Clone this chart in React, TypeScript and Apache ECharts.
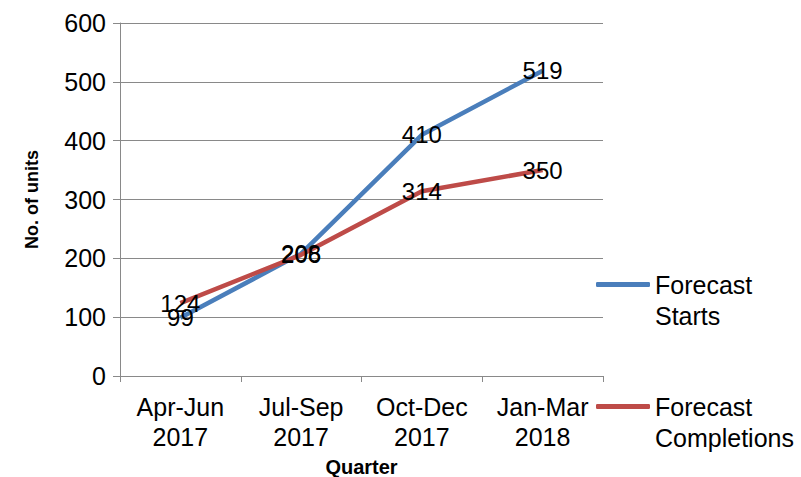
import React, { useEffect, useRef } from "react";
import * as echarts from "echarts";

const categories = ["Apr-Jun 2017", "Jul-Sep 2017", "Oct-Dec 2017", "Jan-Mar 2018"];
const startsName = "Forecast Starts";
const completionsName = "Forecast Completions";
const startsValues = [99, 208, 410, 519];
const completionsValues = [124, 206, 314, 350];
const yTicks = { min: 0, max: 600, interval: 100 };

const FONT = "Liberation Sans, Arial, sans-serif";

export default function App() {
  const ref = useRef<HTMLDivElement>(null);
  useEffect(() => {
    if (!ref.current) return;
    const chart = echarts.init(ref.current, undefined, { renderer: "svg" });
    const legendText = {
      fontFamily: FONT,
      fontSize: 25,
      color: "#000",
      lineHeight: 31,
    };
    const legendBase = {
      orient: "vertical",
      left: 596,
      padding: 0,
      icon: "roundRect",
      itemWidth: 54,
      itemHeight: 5,
      textStyle: legendText,
      formatter: (n: string) => "\n" + n.replace(" ", "\n"),
      selectedMode: false,
    };
    chart.setOption({
      animation: false,
      backgroundColor: "#fff",
      grid: { left: 120, right: 198, top: 23, bottom: 101, containLabel: false, outerBoundsMode: "none" },
      legend: [
        { ...legendBase, data: [startsName], top: 238 },
        { ...legendBase, data: [completionsName], top: 360 },
      ],
      xAxis: {
        type: "category",
        data: categories,
        boundaryGap: true,
        name: "Quarter",
        nameLocation: "middle",
        nameGap: 79,
        nameTextStyle: { fontFamily: FONT, fontSize: 20, fontWeight: "bold", color: "#000" },
        axisLine: { lineStyle: { color: "#898989", width: 1 } },
        axisTick: { show: true, alignWithLabel: false, length: 6, lineStyle: { color: "#898989" } },
        axisLabel: {
          fontFamily: FONT,
          fontSize: 25,
          color: "#000",
          lineHeight: 30,
          margin: 16,
          interval: 0,
          formatter: (v: string) => v.replace(" ", "\n"),
        },
        splitLine: { show: false },
      },
      yAxis: {
        type: "value",
        min: yTicks.min,
        max: yTicks.max,
        interval: yTicks.interval,
        name: "No. of units",
        nameLocation: "middle",
        nameGap: 79,
        nameTextStyle: { fontFamily: FONT, fontSize: 18, fontWeight: "bold", color: "#000" },
        axisLine: { show: true, lineStyle: { color: "#898989", width: 1 } },
        axisTick: { show: true, length: 7, lineStyle: { color: "#898989" } },
        axisLabel: { fontFamily: FONT, fontSize: 25, color: "#000", margin: 14 },
        splitLine: { show: true, lineStyle: { color: "#898989", width: 1 } },
      },
      series: [
        {
          name: startsName,
          type: "line",
          data: startsValues,
          color: "#4A7EBB",
          lineStyle: { color: "#4A7EBB", width: 4.5 },
          symbol: "circle",
          symbolSize: 0,
          showSymbol: true,
          label: { show: true, position: "inside", fontFamily: FONT, fontSize: 24, color: "#000" },
        },
        {
          name: completionsName,
          type: "line",
          data: completionsValues,
          color: "#BE4B48",
          lineStyle: { color: "#BE4B48", width: 4.5 },
          symbol: "circle",
          symbolSize: 0,
          showSymbol: true,
          label: { show: true, position: "inside", fontFamily: FONT, fontSize: 24, color: "#000" },
        },
      ],
    });
    return () => chart.dispose();
  }, []);
  return <div ref={ref} style={{ width: 801, height: 477, position: "absolute", left: 0, top: 0 }} />;
}
